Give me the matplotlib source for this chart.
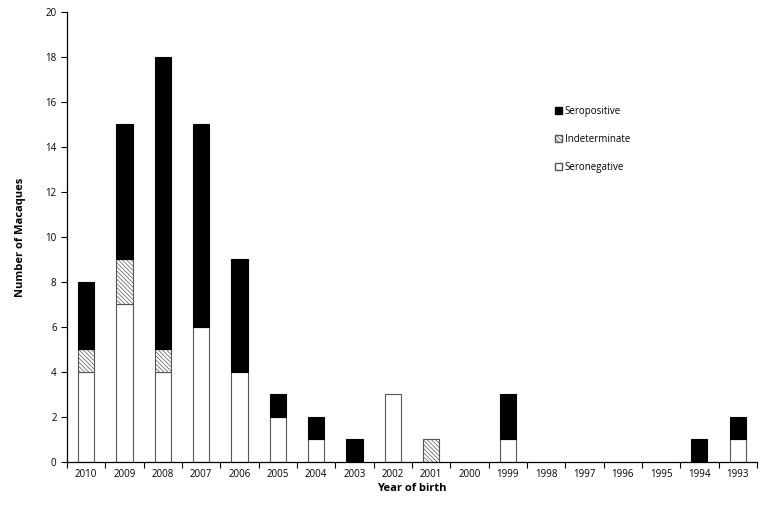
import matplotlib
matplotlib.use("Agg")
import matplotlib.pyplot as plt
import numpy as np
from matplotlib.patches import Patch

plt.rcParams['font.family'] = ['Open Sans', 'DejaVu Sans']
plt.rcParams['hatch.linewidth'] = 0.5

years = ["2010", "2009", "2008", "2007", "2006", "2005", "2004", "2003", "2002",
         "2001", "2000", "1999", "1998", "1997", "1996", "1995", "1994", "1993"]
seronegative = [4, 7, 4, 6, 4, 2, 1, 0, 3, 0, 0, 1, 0, 0, 0, 0, 0, 1]
indeterminate = [1, 2, 1, 0, 0, 0, 0, 0, 0, 1, 0, 0, 0, 0, 0, 0, 0, 0]
seropositive = [3, 6, 13, 9, 5, 1, 1, 1, 0, 0, 0, 2, 0, 0, 0, 0, 1, 1]

fig = plt.figure(figsize=(7.7, 5.19), dpi=100)
ax = fig.add_axes([0.087, 0.110, 0.896, 0.867])

x = np.arange(len(years))
neg = np.array(seronegative)
ind = np.array(indeterminate)
pos = np.array(seropositive)
w = 0.42
ec = '#555555'
hatch = '\\' * 8


def lw(v):
    return np.where(v > 0, 0.8, 0.0)


ax.bar(x, neg, w, color='white', edgecolor=ec, linewidth=lw(neg))
ax.bar(x, ind, w, bottom=neg, color='white', edgecolor=ec, linewidth=lw(ind), hatch=hatch)
ax.bar(x, pos, w, bottom=neg + ind, color='black', edgecolor='black', linewidth=lw(pos))

ax.set_xlim(-0.5, len(years) - 0.5)
ax.set_ylim(0, 20)
ax.set_yticks(range(0, 21, 2))
ax.set_xticks(x)
ax.set_xticklabels(years)
ax.set_xticks(np.arange(-0.5, len(years), 1), minor=True)
ax.tick_params(axis='x', which='major', length=0, labelsize=7, pad=5)
ax.tick_params(axis='x', which='minor', length=4, width=0.8, direction='out')
ax.tick_params(axis='y', length=4, width=0.8, direction='out', labelsize=7)
for s in ['top', 'right']:
    ax.spines[s].set_visible(False)
for s in ['left', 'bottom']:
    ax.spines[s].set_linewidth(0.9)
ax.set_xlabel("Year of birth", fontsize=8, fontweight='bold', labelpad=2)
ax.set_ylabel("Number of Macaques", fontsize=8, fontweight='bold', labelpad=14)

handles = [Patch(facecolor='black', edgecolor='black', label='Seropositive'),
           Patch(facecolor='white', edgecolor=ec, hatch=hatch, label='Indeterminate'),
           Patch(facecolor='white', edgecolor=ec, label='Seronegative')]
ax.legend(handles=handles, loc='upper left', bbox_to_anchor=(0.695, 0.81), frameon=False,
          fontsize=7, handlelength=0.7, handleheight=0.7, handletextpad=0.3,
          labelspacing=1.75)

fig.savefig("out.png", dpi=100)
